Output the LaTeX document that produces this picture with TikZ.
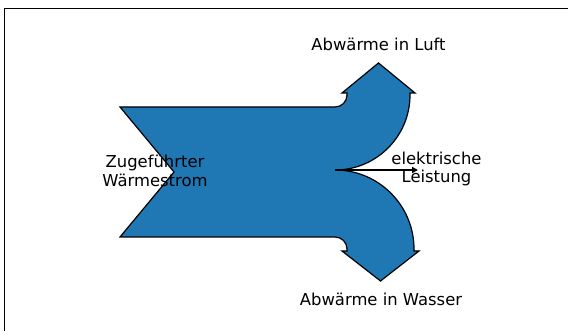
\documentclass[tikz,border=0pt]{standalone}
\usepackage{fontspec}
\setmainfont{DejaVu Sans}
\usetikzlibrary{arrows.meta}
\definecolor{flowblue}{HTML}{1F77B4}
\tikzset{
  flow/.style={fill=flowblue, draw=black, line width=1.2pt, line join=miter},
  lbl/.style={font=\fontsize{16.4}{18.5}\selectfont, align=center, text=black, inner sep=0pt},
  frame/.style={draw=black, line width=1pt}
}
\begin{document}
\begin{tikzpicture}[x=1pt,y=1pt]
\useasboundingbox (0,0) rectangle (568,331);
% axes frame (top and left visible)
\coordinate (fTR) at (568,322);
\coordinate (fTL) at (4,322);
\coordinate (fBL) at (4,0);
\draw[frame] (fTR) -- (fTL) -- (fBL);
% sankey shape
\draw[flow]
  (120,224) -- (335,224)
  arc[start angle=-90, end angle=0, radius=12] -- (347,238)
  -- (342,238) -- (378.5,268) -- (415,238) -- (410,238) -- (410,236)
  arc[start angle=0, end angle=-90, radius=75]
  arc[start angle=90, end angle=0, radius=79] -- (414,80)
  -- (419,80) -- (380.5,50) -- (342,80) -- (347,80) -- (347,82)
  arc[start angle=0, end angle=90, radius=12]
  -- (120,94) -- (174,159) -- cycle;
% electric power arrow
\coordinate (eStart) at (335,161);
\coordinate (eEnd) at (418,161);
\draw[line width=1.5pt, -{Triangle[length=6pt,width=6pt]}] (eStart) -- (eEnd);
% labels
\node[lbl] (luft) at (378.5,287) {Abwärme in Luft};
\node[lbl] (zu) at (155,160) {Zugeführter\\Wärmestrom};
\node[lbl] (el) at (436.5,162) {elektrische\\Leistung};
\node[lbl] (wasser) at (381,32) {Abwärme in Wasser};
\end{tikzpicture}
\end{document}
